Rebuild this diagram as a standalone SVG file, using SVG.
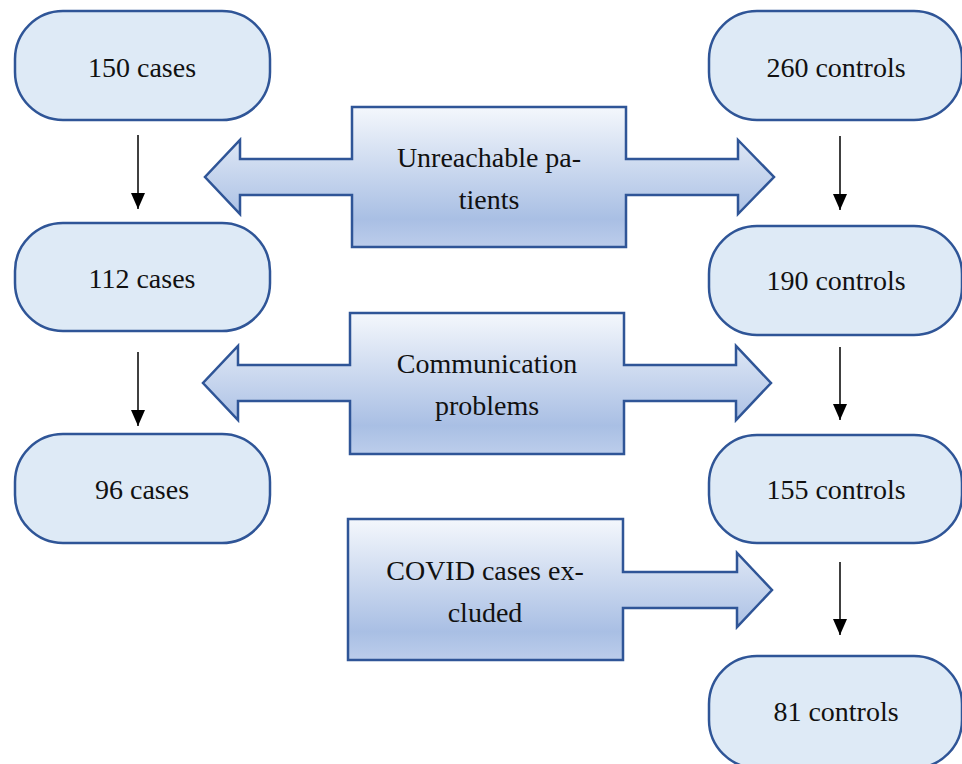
<svg xmlns="http://www.w3.org/2000/svg" width="962" height="764" viewBox="0 0 962 764">
<style>
.node{fill:#deeaf6;stroke:#2f5597;stroke-width:2.5}
.call{fill:url(#g);stroke:#2f5597;stroke-width:2.5;stroke-linejoin:miter}
text{font-family:"Liberation Serif","DejaVu Serif",serif;font-size:28px;fill:#111;text-anchor:middle}
.conn line{stroke:#000;stroke-width:1.5}
</style>
<defs>
<linearGradient id="g" x1="0" y1="0" x2="0" y2="1">
<stop offset="0" stop-color="#f4f7fc"/>
<stop offset="0.8" stop-color="#a9bfe4"/>
<stop offset="1" stop-color="#bccdeb"/>
</linearGradient>
<marker id="ah" markerWidth="16" markerHeight="14" refX="16" refY="7" orient="auto" markerUnits="userSpaceOnUse" viewBox="0 0 16 14">
<path d="M0,0 L16,7 L0,14 z" fill="#000"/>
</marker>
</defs>
<g id="n150"><rect class="node" x="15" y="11" width="255" height="109" rx="48" ry="48"/><text x="142" y="77">150 cases</text></g>
<g id="n112"><rect class="node" x="15" y="223" width="255" height="108" rx="48" ry="48"/><text x="142" y="288">112 cases</text></g>
<g id="n96"><rect class="node" x="15" y="434" width="255" height="109" rx="48" ry="48"/><text x="142" y="499">96 cases</text></g>
<g id="n260"><rect class="node" x="709" y="11" width="253" height="109" rx="48" ry="48"/><text x="836" y="77">260 controls</text></g>
<g id="n190"><rect class="node" x="709" y="226" width="253" height="109" rx="48" ry="48"/><text x="836" y="290">190 controls</text></g>
<g id="n155"><rect class="node" x="709" y="435" width="253" height="108" rx="48" ry="48"/><text x="836" y="499">155 controls</text></g>
<g id="n81"><rect class="node" x="709" y="656" width="253" height="112" rx="48" ry="48"/><text x="836" y="721">81 controls</text></g>
<g id="c1"><path class="call" d="M352,107 H626 V159 H738 V140 L774,177 L738,214 V195 H626 V247 H352 V195 H240 V214 L205,177 L240,140 V159 H352 Z"/><text x="489" y="167">Unreachable pa-</text><text x="489" y="209">tients</text></g>
<g id="c2"><path class="call" d="M350,313 H624 V365 H736 V346 L771,383 L736,420 V401 H624 V454 H350 V401 H238 V420 L203,383 L238,346 V365 H350 Z"/><text x="487" y="373">Communication</text><text x="487" y="415">problems</text></g>
<g id="c3"><path class="call" d="M348,519 H623 V572 H737 V553 L772,590 L737,627 V608 H623 V660 H348 Z"/><text x="485" y="580">COVID cases ex-</text><text x="485" y="622">cluded</text></g>
<g id="connectors" class="conn">
<line x1="138" y1="135" x2="138" y2="209" marker-end="url(#ah)"/>
<line x1="138" y1="352" x2="138" y2="426" marker-end="url(#ah)"/>
<line x1="840" y1="136" x2="840" y2="210" marker-end="url(#ah)"/>
<line x1="840" y1="347" x2="840" y2="420" marker-end="url(#ah)"/>
<line x1="840" y1="562" x2="840" y2="635" marker-end="url(#ah)"/>
</g>
</svg>
